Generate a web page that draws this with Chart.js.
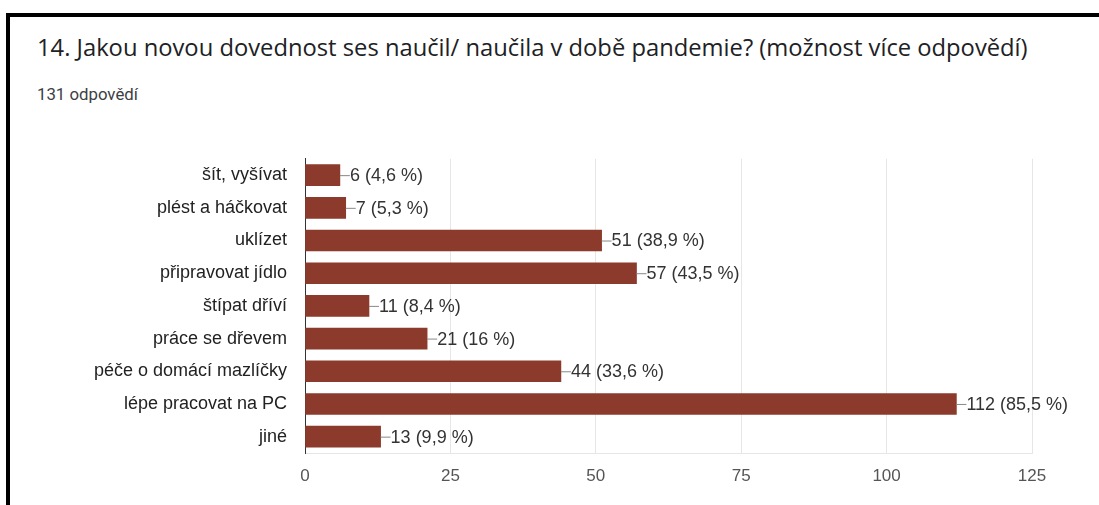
<!DOCTYPE html>
<html>
<head>
<meta charset="utf-8">
<script src="https://cdn.jsdelivr.net/npm/chart.js@4"></script>
<style>
  html, body { margin: 0; padding: 0; background: #fff; width: 1099px; height: 505px; overflow: hidden; }
  #topbar { position: absolute; left: 6px; top: 13px; width: 1093px; height: 4px; background: #000; z-index: 5; }
  #leftbar { position: absolute; left: 6px; top: 13px; width: 4px; height: 492px; background: #000; z-index: 5; }
  #title { position: absolute; left: 37px; top: 31px; white-space: nowrap; color: #202124; font-family: "Open Sans", sans-serif; }
  #subtitle { position: absolute; left: 37px; top: 84px; white-space: nowrap; color: #3c4043; font-family: Roboto, sans-serif; }
  #wrap { position: absolute; left: 0; top: 130px; width: 1099px; height: 375px; }
</style>
</head>
<body>
<div id="topbar"></div>
<div id="leftbar"></div>
<div id="title">14. Jakou novou dovednost ses naučil/ naučila v době pandemie? (možnost více odpovědí)</div>
<div id="subtitle">131 odpovědí</div>
<div id="wrap"><canvas id="c" width="1099" height="375"></canvas></div>
<script>
const categories = ["šít, vyšívat", "plést a háčkovat", "uklízet", "připravovat jídlo", "štípat dříví", "práce se dřevem", "péče o domácí mazlíčky", "lépe pracovat na PC", "jiné"];
const counts = [6, 7, 51, 57, 11, 21, 44, 112, 13];
const percents = ["4,6", "5,3", "38,9", "43,5", "8,4", "16", "33,6", "85,5", "9,9"];
const xTicks = [0, 25, 50, 75, 100, 125];

// fit title/subtitle widths to the reference
function fit(el, targetW, family) {
  const cv = document.createElement('canvas').getContext('2d');
  cv.font = '100px ' + family;
  const w = cv.measureText(el.textContent).width;
  el.style.fontSize = (100 * targetW / w).toFixed(2) + 'px';
}
fit(document.getElementById('title'), 991, '"Open Sans"');
fit(document.getElementById('subtitle'), 101, 'Roboto');

const labelPlugin = {
  id: 'barLabels',
  afterDatasetsDraw(chart) {
    const ctx = chart.ctx;
    const meta = chart.getDatasetMeta(0);
    ctx.save();
    ctx.font = '18px "Liberation Sans", Arial, sans-serif';
    ctx.textBaseline = 'middle';
    ctx.textAlign = 'left';
    meta.data.forEach((bar, i) => {
      const x = bar.x, y = bar.y;
      ctx.strokeStyle = '#888888';
      ctx.lineWidth = 1;
      ctx.beginPath();
      ctx.moveTo(x, y + 0.5);
      ctx.lineTo(x + 10, y + 0.5);
      ctx.stroke();
      ctx.fillStyle = '#333333';
      ctx.fillText(counts[i] + ' (' + percents[i] + ' %)', x + 10, y + 1);
    });
    ctx.restore();
  }
};

new Chart(document.getElementById('c'), {
  type: 'bar',
  data: {
    labels: categories,
    datasets: [{
      data: counts,
      backgroundColor: '#8b3a2b',
      barThickness: 21,
      borderWidth: 0
    }]
  },
  options: {
    indexAxis: 'y',
    responsive: false,
    animation: false,
    layout: { padding: { left: 0, right: 67, top: 12, bottom: 0 } },
    plugins: { legend: { display: false }, tooltip: { enabled: false } },
    scales: {
      x: {
        min: 0, max: 125,
        afterFit(s) { s.height = 52; },
        afterBuildTicks(s) { s.ticks = xTicks.map(v => ({ value: v })); },
        grid: { color: '#e6e6e6', drawTicks: false },
        border: { color: '#e6e6e6' },
        ticks: { padding: 13, color: '#555555', font: { family: '"Liberation Sans", Arial, sans-serif', size: 17 } }
      },
      y: {
        afterFit(s) { s.width = 305; },
        grid: { display: false, drawTicks: false },
        border: { color: '#333333', width: 1 },
        ticks: { padding: 18, color: '#222222', font: { family: '"Liberation Sans", Arial, sans-serif', size: 18 } }
      }
    }
  },
  plugins: [labelPlugin]
});
</script>
</body>
</html>
